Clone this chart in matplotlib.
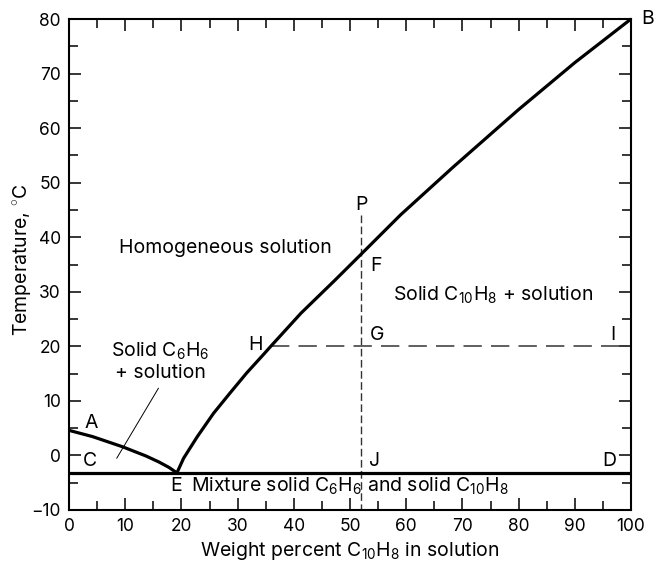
import matplotlib
matplotlib.use("Agg")
import matplotlib.pyplot as plt
from matplotlib.ticker import MultipleLocator

plt.rcParams['font.family'] = ['Inter', 'DejaVu Sans']
plt.rcParams['mathtext.fontset'] = 'custom'
plt.rcParams['mathtext.rm'] = 'Inter'
plt.rcParams['mathtext.it'] = 'Inter:italic'
plt.rcParams['mathtext.bf'] = 'Inter:bold'

# Benzene liquidus A -> E
ae_x = [0, 4.2, 9.5, 13.7, 16.0, 17.8, 19.2]
ae_y = [4.6, 3.45, 1.6, -0.1, -1.2, -2.2, -3.2]
# Naphthalene liquidus E -> B
eb_x = [19.2, 20.4, 22.8, 25.7, 28.7, 31.6, 34.6, 35.9, 41.3, 47.2, 51.7, 59.0, 68.4, 80.0, 90.0, 100]
eb_y = [-3.2, -0.5, 3.4, 7.7, 11.5, 15.1, 18.5, 20.0, 26.1, 32.0, 36.6, 44.1, 52.9, 63.4, 72.0, 80]
# Eutectic line C -> D
eutectic_T = -3.2
# Isopleth P-J and isotherm H-I
isopleth_x = 52
isopleth_T = [44, -10]
isotherm_T = 20
isotherm_x = [35.9, 100]

point_labels = ['A', 'C', 'E', 'J', 'D', 'I', 'G', 'H', 'F', 'P', 'B']
point_x = [4.0, 3.7, 19.0, 54.3, 96.1, 96.8, 54.8, 33.1, 54.6, 52.1, 103.0]
point_y = [5.9, -1.1, -5.6, -1.1, -1.1, 22.1, 22.1, 20.3, 34.7, 45.9, 80.0]

fig = plt.figure(figsize=(6.59, 5.64), dpi=100)
ax = fig.add_axes([69/659, 1-510/564, (631-69)/659, (510-19)/564])

lw = 2.3
ax.plot(ae_x, ae_y, color='black', lw=lw, solid_capstyle='butt',
        solid_joinstyle='round', zorder=3)
ax.plot(eb_x, eb_y, color='black', lw=lw, solid_capstyle='butt',
        solid_joinstyle='round', zorder=3, clip_on=False)
ax.plot([0, 100], [eutectic_T, eutectic_T], color='black', lw=lw, zorder=3)
ax.plot([isopleth_x, isopleth_x], isopleth_T, color='#333333', lw=1.0,
        dashes=(5.5, 2.5), zorder=2)
ax.plot(isotherm_x, [isotherm_T, isotherm_T], color='#444444', lw=1.2,
        dashes=(11, 5.5), zorder=2)
# leader line
ax.plot([15.9, 8.5], [12.3, -0.5], color='black', lw=0.7)

fs = 14
for lab, x, y in zip(point_labels, point_x, point_y):
    ax.text(x, y, lab, fontsize=fs, ha='center', va='center', clip_on=False)

ax.text(27.9, 38.0, 'Homogeneous solution', fontsize=fs, ha='center', va='center')
ax.text(75.5, 29.4, 'Solid C$_{10}$H$_8$ + solution', fontsize=fs, ha='center', va='center')
ax.text(16.3, 19.0, 'Solid C$_6$H$_6$', fontsize=fs, ha='center', va='center')
ax.text(16.3, 15.1, '+ solution', fontsize=fs, ha='center', va='center')
ax.text(50.0, -5.6, 'Mixture solid C$_6$H$_6$ and solid C$_{10}$H$_8$', fontsize=fs,
        ha='center', va='center')

ax.set_xlim(0, 100)
ax.set_ylim(-10, 80)
ax.xaxis.set_major_locator(MultipleLocator(10))
ax.xaxis.set_minor_locator(MultipleLocator(5))
ax.yaxis.set_major_locator(MultipleLocator(10))
ax.yaxis.set_minor_locator(MultipleLocator(5))
ax.tick_params(which='both', direction='in', top=True, right=True, width=1.1,
               labelsize=12.5, pad=6)
ax.tick_params(which='major', length=8.5)
ax.tick_params(which='minor', length=6.5)
for s in ax.spines.values():
    s.set_linewidth(1.5)

ax.set_xlabel('Weight percent C$_{10}$H$_8$ in solution', fontsize=fs, labelpad=3)
ax.set_ylabel('Temperature, $^{\\circ}$C', fontsize=fs)
ax.yaxis.set_label_coords(-0.063, 0.51)

fig.savefig('out.png', dpi=100)
